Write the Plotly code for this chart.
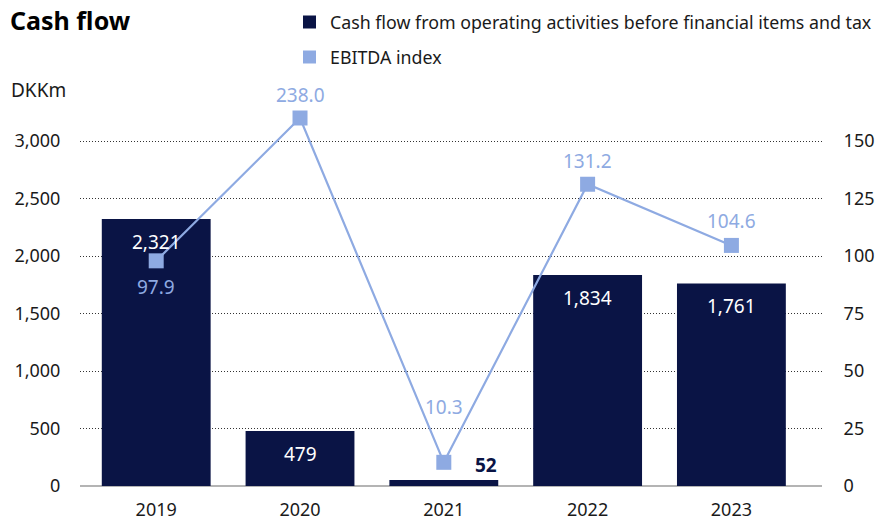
import plotly.graph_objects as go

# ---- data ----
years = ["2019", "2020", "2021", "2022", "2023"]
cash_flow = [2321, 479, 52, 1834, 1761]          # DKKm
ebitda_index = [97.9, 238.0, 10.3, 131.2, 104.6]
series_names = ["Cash flow from operating activities before financial items and tax", "EBITDA index"]

left_ticks = [0, 500, 1000, 1500, 2000, 2500, 3000]
right_ticks = [0, 25, 50, 75, 100, 125, 150]

# ---- style ----
NAVY = "#0a1445"
LIGHT = "#8eaae2"
TXT = "#1a1a1a"
FONT = "Noto Sans"

W, H = 877, 520
ML, MR, MT, MB = 80, 55, 118, 34
PW, PH = W - ML - MR, H - MT - MB

left_max = 3200
ratio = 20
right_max = left_max / ratio
plotted_index = [float(min(v, right_max)) for v in ebitda_index]   # capped at axis top like the original
index_label_shift = [-26, 23, 55, 23, 24]


def px(x):
    return (x - ML) / PW


def py(y):
    return (H - MB - y) / PH


fig = go.Figure()
fig.add_trace(go.Bar(
    x=years, y=cash_flow, name=series_names[0],
    marker=dict(color=NAVY, line=dict(width=0)), width=0.757,
))
fig.add_trace(go.Scatter(
    x=years, y=plotted_index, yaxis="y2", mode="lines+markers", name=series_names[1],
    line=dict(color=LIGHT, width=2.2),
    marker=dict(symbol="square", size=15, color=LIGHT),
    cliponaxis=False,
))

ann = []
for i, v in enumerate(cash_flow):
    if v > 200:
        ann.append(dict(x=i, y=v, xref="x", yref="y", text=f"{v:,}", showarrow=False,
                        yanchor="middle", yshift=-23, font=dict(color="white", size=19, family=FONT)))
    else:
        ann.append(dict(x=i, y=v, xref="x", yref="y", text=f"<b>{v:,}</b>", showarrow=False,
                        yanchor="middle", xshift=42, yshift=15, font=dict(color=NAVY, size=19, family=FONT)))
for i, (v, pv, sh) in enumerate(zip(ebitda_index, plotted_index, index_label_shift)):
    ann.append(dict(x=i, y=pv, xref="x", yref="y2", text=f"{v:.1f}", showarrow=False,
                    yanchor="middle", yshift=sh, font=dict(color=LIGHT, size=19, family=FONT)))
ann.append(dict(x=px(9), y=py(90), xref="paper", yref="paper", text="DKKm", showarrow=False,
                xanchor="left", yanchor="middle", font=dict(color=TXT, size=19, family=FONT)))

# legend (drawn as swatches + labels)
shapes = []
for name, col, cy in zip(series_names, [NAVY, LIGHT], [22, 57]):
    shapes.append(dict(type="rect", xref="paper", yref="paper",
                       x0=px(303), x1=px(316), y0=py(cy + 6.5), y1=py(cy - 6.5),
                       fillcolor=col, line=dict(width=0)))
    ann.append(dict(x=px(328), y=py(cy), xref="paper", yref="paper", text=name, showarrow=False,
                    xanchor="left", yanchor="middle", font=dict(color=TXT, size=17.8, family=FONT)))

fig.update_layout(
    width=W, height=H,
    margin=dict(l=ML, r=MR, t=MT, b=MB, autoexpand=False),
    paper_bgcolor="white", plot_bgcolor="white",
    font=dict(family=FONT, color=TXT, size=18),
    title=dict(text="<b>Cash flow</b>", x=10 / W, xanchor="left", xref="container",
               y=1 - 21 / H, yanchor="middle", yref="container",
               font=dict(size=25, color="black", family=FONT)),
    showlegend=False,
    xaxis=dict(type="category", range=[-0.53, 4.63], showgrid=False, showline=False, automargin=False,
               ticks="outside", ticklen=7, tickcolor="white", tickfont=dict(size=18)),
    yaxis=dict(range=[0, left_max], tickvals=left_ticks, tickformat=",", showgrid=True, automargin=False,
               gridcolor="#333333", griddash="1px,2px", gridwidth=1,
               zeroline=True, zerolinecolor="#b4b4b4", zerolinewidth=2,
               ticks="outside", ticklen=15, tickcolor="white", tickfont=dict(size=18)),
    yaxis2=dict(range=[0, right_max], tickvals=right_ticks, overlaying="y", side="right", automargin=False,
                showgrid=False, zeroline=False, ticks="outside", ticklen=17, tickcolor="white",
                tickfont=dict(size=18)),
    annotations=ann,
    shapes=shapes,
)

fig.write_html("out.html", config={"displayModeBar": False},
               post_script="document.body.style.margin='0';")
